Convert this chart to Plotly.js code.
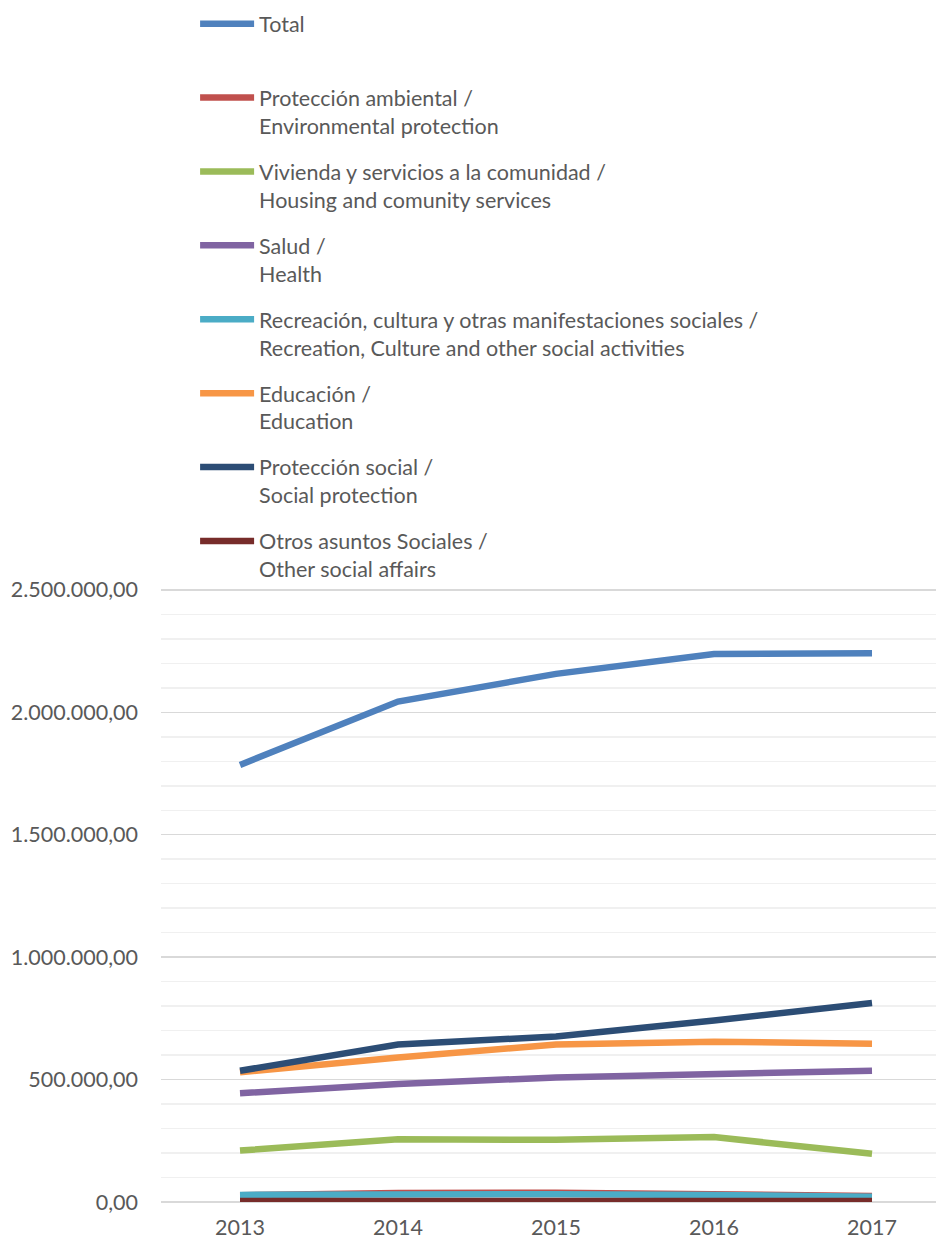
<!DOCTYPE html>
<html>
<head>
<meta charset="utf-8">
<script src="https://cdn.plot.ly/plotly-3.0.1.min.js"></script>
<style>html,body{margin:0;padding:0;background:#fff;}#chart{width:936px;height:1245px;}</style>
</head>
<body>
<div id="chart"></div>
<script>
const years = [2013, 2014, 2015, 2016, 2017];
const seriesNames = [
  "Total<br>&nbsp;",
  "Protección ambiental /<br>Environmental protection",
  "Vivienda y servicios a la comunidad /<br>Housing and comunity services",
  "Salud /<br>Health",
  "Recreación, cultura y otras manifestaciones sociales /<br>Recreation, Culture and other social activities",
  "Educación /<br>Education",
  "Protección social /<br>Social protection",
  "Otros asuntos Sociales /<br>Other social affairs"
];
const total = [1785000, 2044000, 2157000, 2238000, 2241000];
const proteccionAmbiental = [28000, 37000, 38000, 32000, 25000];
const vivienda = [210000, 256000, 254000, 265000, 197000];
const salud = [444000, 482000, 509000, 521000, 536000];
const recreacion = [29000, 32000, 32000, 29000, 21000];
const educacion = [530000, 590000, 643000, 655000, 646000];
const proteccionSocial = [536000, 643000, 676000, 741000, 813000];
const otros = [4000, 4000, 4000, 4000, 4000];
const colors = ["#4f81bd", "#c0504d", "#9bbb59", "#8064a2", "#4bacc6", "#f79646", "#2c4d75", "#772c2a"];
const seriesValues = [total, proteccionAmbiental, vivienda, salud, recreacion, educacion, proteccionSocial, otros];

const traces = seriesValues.map((vals, i) => ({
  x: years,
  y: vals,
  type: "scatter",
  mode: "lines",
  name: seriesNames[i],
  legendgroup: "g" + i,
  line: {color: colors[i], width: 6.5},
  hoverinfo: "skip"
}));

const FONT = "Lato, 'Open Sans', sans-serif";

const layout = {
  width: 936,
  height: 1245,
  paper_bgcolor: "#ffffff",
  plot_bgcolor: "#ffffff",
  margin: {l: 161, r: 0, t: 585, b: 43},
  separators: ",.",
  font: {family: FONT, size: 21.5, color: "#595959"},
  showlegend: true,
  legend: {
    x: 0.044,
    xanchor: "left",
    y: 1.943,
    yanchor: "top",
    traceorder: "grouped",
    tracegroupgap: 15,
    itemwidth: 54,
    valign: "top",
    font: {family: FONT, size: 21.5, color: "#595959"},
    bgcolor: "rgba(0,0,0,0)"
  },
  xaxis: {
    type: "linear",
    range: [2012.5, 2017.405],
    tickvals: years,
    ticktext: years.map(String),
    showgrid: false,
    zeroline: false,
    showline: false,
    ticks: "",
    ticklabelstandoff: 10,
    tickfont: {size: 21.5, color: "#595959"}
  },
  yaxis: {
    range: [0, 2520000],
    tickvals: [0, 500000, 1000000, 1500000, 2000000, 2500000],
    tickformat: ",.2f",
    showgrid: true,
    gridcolor: "#d9d9d9",
    gridwidth: 1.5,
    zeroline: true,
    zerolinecolor: "#d9d9d9",
    zerolinewidth: 1.5,
    showline: false,
    ticks: "",
    ticklabelstandoff: 22,
    tickfont: {size: 21.5, color: "#595959"},
    minor: {tickvals: [100000, 200000, 300000, 400000, 600000, 700000, 800000, 900000, 1100000, 1200000, 1300000, 1400000, 1600000, 1700000, 1800000, 1900000, 2100000, 2200000, 2300000, 2400000], showgrid: true, gridcolor: "#f0f0f0", gridwidth: 1.5}
  }
};

Plotly.newPlot("chart", traces, layout, {displayModeBar: false, staticPlot: true});
</script>
</body>
</html>
